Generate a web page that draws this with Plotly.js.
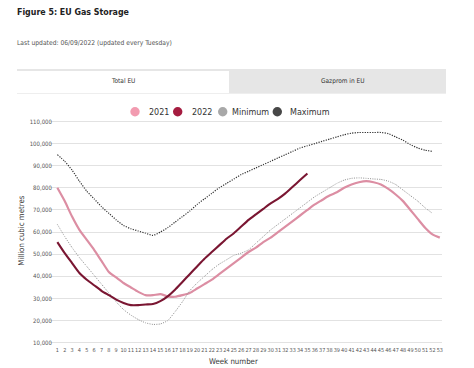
<!DOCTYPE html>
<html>
<head>
<meta charset="utf-8">
<script src="https://cdn.plot.ly/plotly-3.0.1.min.js"></script>
<style>
html,body{margin:0;padding:0;background:#fff;}
#chart{width:474px;height:368px;}
</style>
</head>
<body>
<div id="chart"></div>
<script>
// ---- data (million cubic metres, by week number) ----
const weeks = Array.from({length: 53}, (_, i) => i + 1);
const tickLabels = weeks.map(String);
const yTickVals = [10000, 20000, 30000, 40000, 50000, 60000, 70000, 80000, 90000, 100000, 110000];
const yTickText = ["10,000","20,000","30,000","40,000","50,000","60,000","70,000","80,000","90,000","100,000","110,000"];

const storage2021 = [80000,74000,67000,61000,56500,52000,47000,42000,39500,37000,
  35000,33000,31500,31500,32000,31000,30800,31500,32500,34500,
  36500,38500,41000,43500,46000,48500,51000,53000,55500,57500,
  60000,62500,65000,67500,70000,72500,74500,76500,78000,80000,
  81500,82500,83000,82500,81500,79500,77000,74000,70000,66000,
  62000,59000,57500];

const storage2022 = [55500,50500,46000,41500,38500,36000,33500,31500,29500,28000,
  27000,27000,27300,27500,28800,31000,34000,37500,41000,44500,
  48000,51000,54000,57000,59500,62500,65500,68000,70500,73000,
  75000,77500,80500,83500,86500];

const storageMin = [63500,58000,53000,48500,44500,40500,36500,32500,28500,25000,
  22500,20500,19000,18300,18500,20000,24000,28500,33500,37000,
  40000,43000,45500,47500,49500,50500,52000,55000,58000,61000,
  63500,66000,68500,71000,73500,76000,78000,80000,82000,83500,
  84300,84500,84300,84000,83800,83000,81500,79000,76500,74000,
  71000,68500];

const storageMax = [95000,92000,88000,83000,78500,75000,71500,68500,65500,63000,
  61500,60500,59500,58500,60000,62000,64500,67000,69500,72500,
  75000,77500,80000,82000,84000,86000,87500,89000,90500,92000,
  93500,95000,96500,98000,99000,100000,101000,102000,103000,104000,
  104700,105000,105000,105000,105000,104500,103000,101500,99500,98000,
  97000,96500];

const seriesNames = ["2021", "2022", "Minimum", "Maximum"];

// ---- layout helpers (pixel -> paper) ----
const L = 50, R = 32, T = 117, B = 22.5, W = 474, H = 368;
const PW = W - L - R, PH = H - T - B;
const px = v => (v - L) / PW;
const py = v => (H - B - v) / PH;

const traces = [
  {x: weeks.slice(0, storage2021.length), y: storage2021, name: seriesNames[0], mode: 'lines',
   line: {color: '#dc8ea3', width: 2.2, shape: 'spline', smoothing: 0.5}},
  {x: weeks.slice(0, storageMin.length), y: storageMin, name: seriesNames[2], mode: 'lines',
   line: {color: '#8f8f8f', width: 1, dash: '1px,1.3px', shape: 'spline', smoothing: 0.5}},
  {x: weeks.slice(0, storageMax.length), y: storageMax, name: seriesNames[3], mode: 'lines',
   line: {color: '#333333', width: 1.2, dash: '1.2px,1.3px', shape: 'spline', smoothing: 0.5}},
  {x: weeks.slice(0, storage2022.length), y: storage2022, name: seriesNames[1], mode: 'lines',
   line: {color: '#7a1632', width: 2.1, shape: 'spline', smoothing: 0.5}}
];

const txtFont = 'DejaVu Sans Condensed, Arial Narrow, sans-serif';

const legendItems = [
  {name: seriesNames[0], color: '#f29bb0', cx: 135, tx: 147},
  {name: seriesNames[1], color: '#a51c40', cx: 177.7, tx: 190},
  {name: seriesNames[2], color: '#a8a8a8', cx: 222.7, tx: 230},
  {name: seriesNames[3], color: '#474747', cx: 277.3, tx: 288}
];

const shapes = [
  {type: 'rect', xref: 'paper', yref: 'paper', x0: px(17), x1: px(446), y0: py(93), y1: py(69),
   fillcolor: '#e6e6e6', line: {width: 0}, layer: 'below'},
  {type: 'rect', xref: 'paper', yref: 'paper', x0: px(17), x1: px(229), y0: py(93), y1: py(71),
   fillcolor: '#ffffff', line: {width: 0}, layer: 'below'},
  {type: 'line', xref: 'paper', yref: 'paper', x0: px(17), x1: px(446), y0: py(93.5), y1: py(93.5),
   line: {color: '#eeeeee', width: 1}, layer: 'below'}
];
legendItems.forEach(it => {
  shapes.push({type: 'circle', xref: 'paper', yref: 'paper', xsizemode: 'pixel', ysizemode: 'pixel',
    xanchor: px(it.cx), yanchor: py(111.7), x0: -4.7, x1: 4.7, y0: -4.7, y1: 4.7,
    fillcolor: it.color, line: {width: 0}});
});

const annotations = [
  {text: '<b>Figure 5: EU Gas Storage</b>', xref: 'paper', yref: 'paper', x: px(15), y: py(12),
   xanchor: 'left', yanchor: 'middle', showarrow: false, font: {family: txtFont, size: 8.8, color: '#222'}},
  {text: 'Last updated: 06/09/2022 (updated every Tuesday)', xref: 'paper', yref: 'paper', x: px(15), y: py(43),
   xanchor: 'left', yanchor: 'middle', showarrow: false, font: {family: txtFont, size: 6.7, color: '#555'}},
  {text: 'Total EU', xref: 'paper', yref: 'paper', x: px(123), y: py(80.5),
   xanchor: 'center', yanchor: 'middle', showarrow: false, font: {family: txtFont, size: 6.5, color: '#333'}},
  {text: 'Gazprom in EU', xref: 'paper', yref: 'paper', x: px(342), y: py(80.5),
   xanchor: 'center', yanchor: 'middle', showarrow: false, font: {family: txtFont, size: 6.5, color: '#333'}},
  {text: 'Week number', xref: 'paper', yref: 'paper', x: px(233), y: py(362),
   xanchor: 'center', yanchor: 'middle', showarrow: false, font: {family: txtFont, size: 7.8, color: '#333'}},
  {text: 'Million cubic metres', xref: 'paper', yref: 'paper', x: px(22), y: py(231), textangle: -90,
   xanchor: 'center', yanchor: 'middle', showarrow: false, font: {family: txtFont, size: 7.8, color: '#333'}}
];
legendItems.forEach(it => {
  annotations.push({text: it.name, xref: 'paper', yref: 'paper', x: px(it.tx), y: py(112),
    xanchor: 'left', yanchor: 'middle', showarrow: false,
    font: {family: 'DejaVu Sans, sans-serif', size: 8, color: '#333'}});
});

const layout = {
  width: W, height: H,
  margin: {l: L, r: R, t: T, b: B, pad: 0},
  paper_bgcolor: '#ffffff', plot_bgcolor: '#ffffff',
  showlegend: false,
  xaxis: {range: [0, 53.3], tickmode: 'array', tickvals: weeks, ticktext: tickLabels,
    tickangle: 0, showgrid: false, zeroline: false, showline: false, ticks: '',
    tickfont: {family: txtFont, size: 5.5, color: '#555'}, fixedrange: true},
  yaxis: {range: [9000, 112000], tickmode: 'array', tickvals: yTickVals, ticktext: yTickText,
    showgrid: true, gridcolor: '#e2e2e2', gridwidth: 1, zeroline: false, showline: false, ticks: '',
    ticklabelstandoff: -3,
    tickfont: {family: txtFont, size: 6, color: '#555'}, fixedrange: true},
  shapes: shapes,
  annotations: annotations
};

Plotly.newPlot('chart', traces, layout, {displayModeBar: false, staticPlot: true});
</script>
</body>
</html>
